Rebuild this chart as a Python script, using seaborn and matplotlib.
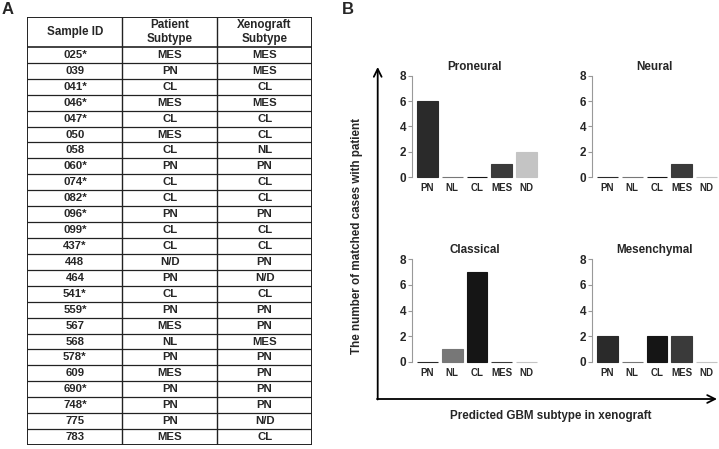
import matplotlib
matplotlib.use("Agg")
import matplotlib.pyplot as plt
import seaborn as sns

# Panel A: table data
sample_ids = ["025*", "039", "041*", "046*", "047*", "050", "058", "060*", "074*",
              "082*", "096*", "099*", "437*", "448", "464", "541*", "559*", "567",
              "568", "578*", "609", "690*", "748*", "775", "783"]
patient_subtype = ["MES", "PN", "CL", "MES", "CL", "MES", "CL", "PN", "CL", "CL",
                   "PN", "CL", "CL", "N/D", "PN", "CL", "PN", "MES", "NL", "PN",
                   "MES", "PN", "PN", "PN", "MES"]
xeno_subtype = ["MES", "MES", "CL", "MES", "CL", "CL", "NL", "PN", "CL", "CL",
                "PN", "CL", "CL", "PN", "N/D", "CL", "PN", "PN", "MES", "PN",
                "PN", "PN", "PN", "N/D", "CL"]
headers = ["Sample ID", "Patient\nSubtype", "Xenograft\nSubtype"]

# Panel B: bar data
categories = ["PN", "NL", "CL", "MES", "ND"]
bar_colors = ["#2a2a2a", "#777777", "#151515", "#3a3a3a", "#c4c4c4"]
proneural = [6, 0, 0, 1, 2]
neural = [0, 0, 0, 1, 0]
classical = [0, 1, 7, 0, 0]
mesenchymal = [2, 0, 2, 2, 0]

sns.set_style("white")
plt.rcParams["font.family"] = ["Liberation Sans", "DejaVu Sans"]
plt.rcParams["font.weight"] = "bold"

W, H = 719, 449
fig = plt.figure(figsize=(W / 100, H / 100), dpi=100)


def px_axes(x0, y0, x1, y1):
    return fig.add_axes([x0 / W, 1 - y1 / H, (x1 - x0) / W, (y1 - y0) / H])


# ---- Panel A: table ----
tab = px_axes(27.5, 17, 312, 445)
head_h = 1.88
n = len(sample_ids)
tab.set_xlim(0, 3)
tab.set_ylim(n + head_h, 0)
tab.axis("off")
tab.hlines([head_h + i for i in range(1, n)], 0, 3, color="#222222", lw=0.9)
tab.hlines([head_h], 0, 3, color="#222222", lw=1.2)
tab.vlines([1, 2], 0, n + head_h, color="#222222", lw=1.0)
tab.add_patch(plt.Rectangle((0, 0), 3, n + head_h, fill=False, ec="#222222", lw=1.4))
for j, h in enumerate(headers):
    tab.text(j + 0.5, head_h / 2, h, ha="center", va="center", fontsize=8.4,
             fontweight="bold", linespacing=1.3)
for i in range(n):
    yc = head_h + i + 0.5
    for j, val in enumerate([sample_ids[i], patient_subtype[i], xeno_subtype[i]]):
        tab.text(j + 0.5, yc, val, ha="center", va="center", fontsize=8.2,
                 fontweight="bold")

# ---- Panel B: overlay for big arrows & labels ----
over = fig.add_axes([0, 0, 1, 1], zorder=0)
over.set_xlim(0, W)
over.set_ylim(H, 0)
over.axis("off")
over.annotate("", xy=(377.7, 67), xytext=(377.7, 399.5),
              arrowprops=dict(arrowstyle="->", lw=1.3, color="black",
                              shrinkA=0, shrinkB=0, mutation_scale=14))
over.annotate("", xy=(717, 399), xytext=(377, 399),
              arrowprops=dict(arrowstyle="->", lw=1.3, color="black",
                              shrinkA=0, shrinkB=0, mutation_scale=14))
over.text(357, 236, "The number of matched cases with patient", rotation=90,
          ha="center", va="center", fontsize=8.4, fontweight="bold")
over.text(551, 416.5, "Predicted GBM subtype in xenograft", ha="center",
          va="center", fontsize=8.4, fontweight="bold")
over.text(2, 10, "A", ha="left", va="center", fontsize=12, fontweight="bold")
over.text(342, 10, "B", ha="left", va="center", fontsize=12, fontweight="bold")

panels = [
    ("Proneural", proneural, (411.7, 75.7, 537, 177)),
    ("Neural", neural, (591.7, 75.7, 717, 177)),
    ("Classical", classical, (411.7, 259, 537, 362)),
    ("Mesenchymal", mesenchymal, (591.7, 259, 717, 362)),
]

for title, vals, box in panels:
    ax = px_axes(*box)
    ax.set_zorder(2)
    ax.patch.set_alpha(0)
    sns.barplot(x=categories, y=vals, hue=categories, palette=bar_colors,
                legend=False, saturation=1, width=0.84, ax=ax)
    for p, c in zip(ax.patches, bar_colors):
        p.set_edgecolor(c)
        p.set_linewidth(0.8)
        p.set_clip_on(False)
    ax.set_xlim(-0.64, 4.42)
    ax.set_ylim(0, 8)
    ax.set_yticks([0, 2, 4, 6, 8])
    for s in ["top", "right", "bottom"]:
        ax.spines[s].set_visible(False)
    ax.spines["left"].set_color("#999999")
    ax.spines["left"].set_linewidth(0.8)
    ax.tick_params(axis="y", left=True, length=3, width=0.8, color="#999999",
                   pad=1, labelsize=8.5)
    ax.tick_params(axis="x", bottom=False, length=0, pad=4, labelsize=7)
    for lab in ax.get_xticklabels() + ax.get_yticklabels():
        lab.set_fontweight("bold")
    ax.set_title(title, fontsize=8.4, fontweight="bold", pad=4)
    ax.set_xlabel("")
    ax.set_ylabel("")

fig.savefig("out.png", dpi=100)
